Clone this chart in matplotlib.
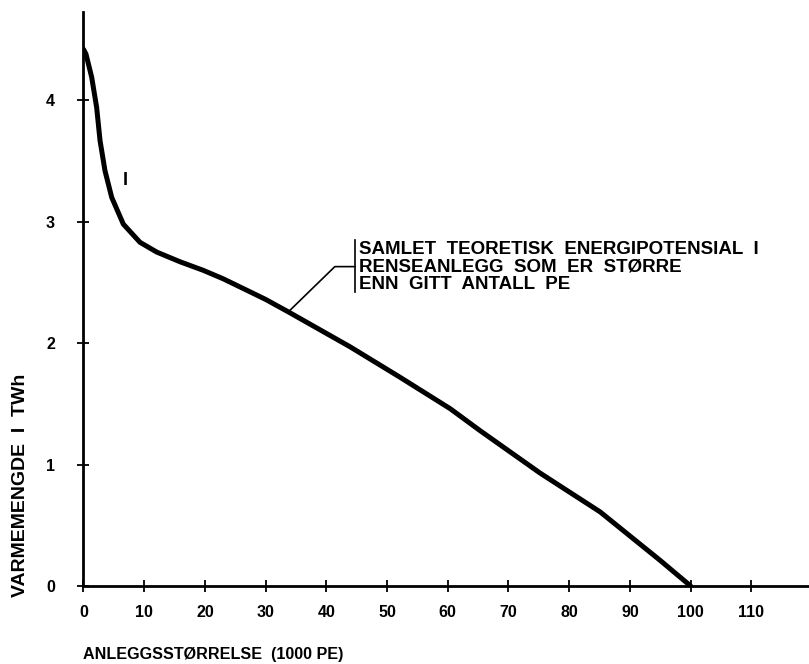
import numpy as np
import matplotlib.pyplot as plt
import matplotlib

matplotlib.rcParams['font.family'] = ['Liberation Sans', 'DejaVu Sans']
matplotlib.rcParams['font.weight'] = 'bold'

# curve (x in 1000 PE, y in TWh)
pe = [0, 0.41, 1.35, 2.17, 2.72, 3.54, 4.65, 6.56, 9.31, 12.06, 15.9, 19.7, 23.0, 26.3,
      30.0, 34.0, 43.9, 52.1, 60.4, 65.3, 75.2, 85.1, 95.0, 100]
twh = [4.42, 4.38, 4.19, 3.94, 3.67, 3.42, 3.20, 2.98, 2.83, 2.75, 2.67, 2.60, 2.53, 2.45,
       2.36, 2.25, 1.97, 1.72, 1.46, 1.28, 0.93, 0.61, 0.21, 0.0]

xticks = [0, 10, 20, 30, 40, 50, 60, 70, 80, 90, 100, 110]
yticks = [0, 1, 2, 3, 4]

note = 'SAMLET  TEORETISK  ENERGIPOTENSIAL  I\nRENSEANLEGG  SOM  ER  STØRRE\nENN  GITT  ANTALL  PE'
# leader line from the curve to the note
leader_x = [34.0, 41.4, 44.7]
leader_y = [2.27, 2.63, 2.63]

fig = plt.figure(figsize=(8.09, 6.64), dpi=100)
ax = fig.add_axes([0.1032, 0.1175, 0.8968, 0.865])

ax.plot(pe, twh, color='black', linewidth=3.6, solid_joinstyle='round',
        solid_capstyle='round')
ax.plot(leader_x, leader_y, color='black', linewidth=1.2)
ax.plot([44.7, 44.7], [2.42, 2.85], color='black', linewidth=1.2)
ax.text(45.4, 2.625, note, fontsize=13.5, fontweight='bold', va='center', ha='left',
        linespacing=1.05)
ax.text(6.95, 3.34, 'I', fontsize=13, fontweight='bold', ha='center', va='center')

ax.set_xlim(0, 119.5)
ax.set_ylim(0, 4.73)
ax.set_xticks(xticks)
ax.set_yticks(yticks)
ax.set_xticklabels([str(t) for t in xticks], fontweight='bold')
ax.set_yticklabels([str(t) for t in yticks], fontweight='bold')

for s in ['top', 'right']:
    ax.spines[s].set_visible(False)
for s in ['left', 'bottom']:
    ax.spines[s].set_linewidth(2.0)

ax.tick_params(direction='inout', length=9, width=1.3, labelsize=11.5, pad=9)
ax.tick_params(axis='y', pad=16)

fig.text(83 / 809, 1 - 655 / 664, 'ANLEGGSSTØRRELSE  (1000 PE)', fontsize=11.6,
         fontweight='bold', ha='left', va='center')
fig.text(20.7 / 809, 1 - 485 / 664, 'VARMEMENGDE  I  TWh', fontsize=14,
         fontweight='bold', rotation=90, ha='center', va='center')

fig.savefig('out.png', dpi=100)
